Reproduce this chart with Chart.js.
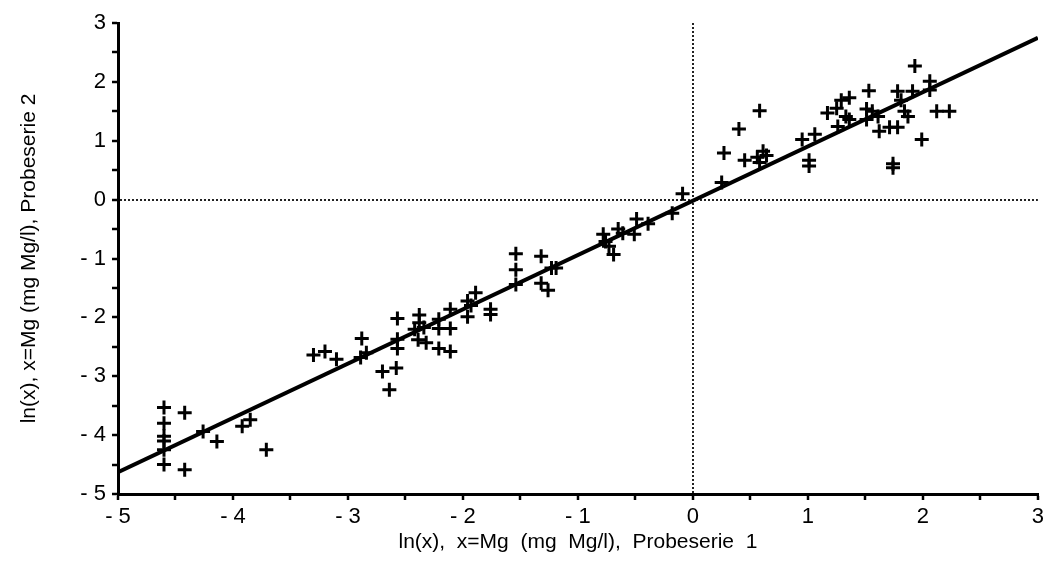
<!DOCTYPE html>
<html lang="de">
<head>
<meta charset="UTF-8">
<title>Mg Probeserie 1 vs 2</title>
<script src="https://cdn.jsdelivr.net/npm/chart.js"></script>
<style>
  html, body { margin: 0; padding: 0; background: #fff; }
  #wrap { width: 1048px; height: 566px; }
</style>
</head>
<body>
<div id="wrap"><canvas id="grafico"></canvas></div>
<script>
// ln(x) Probeserie 1 (x) and Probeserie 2 (y)
const serie1 = [
  -4.60, -4.60, -4.60, -4.60, -4.60, -4.60, -4.42, -4.42, -4.26, -4.14, -3.92, -3.85, -3.71,
  -3.30, -3.20, -3.10, -2.88, -2.89, -2.84, -2.70, -2.58, -2.64, -2.57, -2.57, -2.57,
  -2.38, -2.38, -2.42, -2.34, -2.39, -2.32, -2.21, -2.21, -2.11, -2.21, -2.11, -2.11,
  -1.96, -1.89, -1.93, -1.96, -1.76, -1.76, -1.54, -1.54, -1.54, -1.32, -1.32, -1.26, -1.23, -1.19,
  -0.78, -0.76, -0.73, -0.69, -0.65, -0.61, -0.51, -0.49, -0.39, -0.18, -0.09, 0.25,
  0.27, 0.40, 0.45, 0.58, 0.56, 0.61, 0.64, 0.58, 0.95, 1.06, 1.01, 1.01,
  1.17, 1.25, 1.29, 1.36, 1.33, 1.36, 1.26, 1.53, 1.51, 1.56, 1.61, 1.51, 1.62, 1.71, 1.78,
  1.74, 1.74, 1.78, 1.81, 1.84, 1.87, 1.91, 1.93, 2.06, 2.06, 1.99, 2.12, 2.23
];
const serie2 = [
  -3.53, -3.80, -4.02, -4.10, -4.25, -4.50, -3.62, -4.59, -3.94, -4.11, -3.85, -3.74, -4.25,
  -2.64, -2.58, -2.71, -2.36, -2.68, -2.60, -2.92, -2.86, -3.23, -2.02, -2.37, -2.53,
  -1.96, -2.09, -2.20, -2.17, -2.38, -2.43, -2.03, -2.19, -2.19, -2.53, -2.58, -1.86,
  -1.72, -1.58, -1.80, -1.99, -1.86, -1.95, -0.92, -1.19, -1.44, -0.96, -1.42, -1.54, -1.16, -1.16,
  -0.59, -0.71, -0.79, -0.93, -0.50, -0.57, -0.59, -0.33, -0.41, -0.23, 0.10, 0.29,
  0.79, 1.20, 0.67, 1.51, 0.72, 0.82, 0.75, 0.63, 1.02, 1.11, 0.67, 0.57,
  1.47, 1.55, 1.69, 1.73, 1.41, 1.36, 1.24, 1.85, 1.54, 1.50, 1.41, 1.36, 1.16, 1.23, 1.23,
  0.54, 0.61, 1.84, 1.69, 1.50, 1.41, 1.84, 2.27, 2.01, 1.86, 1.02, 1.50, 1.50
];
// regression line end points
const linieX = [-5, 3];
const linieY = [-4.63, 2.75];

const achsenMin = -5;
const achsenMax = 3;
const titelX = 'ln(x),  x=Mg  (mg  Mg/l),  Probeserie  1';
const titelY = 'ln(x), x=Mg (mg Mg/l), Probeserie 2';

const punkte = serie1.map((x, i) => ({ x: x, y: serie2[i] }));
const linie = linieX.map((x, i) => ({ x: x, y: linieY[i] }));

const familie = "'Liberation Sans', Arial, Helvetica, sans-serif";
const schriftTicks = { family: familie, size: 22 };
const schriftTitel = { family: familie, size: 21 };

function beschriftung(v) {
    if (!Number.isInteger(v)) return '';
    return v < 0 ? '- ' + Math.abs(v) : String(v);
}

function gitter(ctx) {
    return ctx.tick && ctx.tick.value === 0 ? '#222' : 'rgba(0,0,0,0)';
}

new Chart(document.getElementById('grafico'), {
    type: 'scatter',
    data: {
        datasets: [{
            data: punkte,
            pointStyle: 'cross',
            pointRadius: 7,
            pointHoverRadius: 7,
            borderColor: '#000',
            backgroundColor: '#000',
            pointBorderWidth: 3,
            showLine: false
        }, {
            type: 'line',
            data: linie,
            borderColor: '#000',
            borderWidth: 4,
            pointRadius: 0,
            fill: false
        }]
    },
    options: {
        responsive: true,
        maintainAspectRatio: false,
        animation: false,
        layout: { padding: { top: 23, right: 2, left: 0, bottom: 0 } },
        plugins: {
            legend: { display: false },
            tooltip: { enabled: false }
        },
        scales: {
            x: {
                type: 'linear',
                min: achsenMin,
                max: achsenMax,
                afterFit: s => { s.height = 72; },
                ticks: { stepSize: 0.5, autoSkip: false, maxRotation: 0, color: '#000', font: schriftTicks, padding: 4, callback: beschriftung },
                grid: { color: gitter, lineWidth: 2, tickLength: 6, tickColor: '#000', tickWidth: 2.5 },
                border: { display: true, color: '#000', width: 3, dash: [2, 2] },
                title: { display: true, text: titelX, color: '#000', font: schriftTitel, padding: { top: 0, bottom: 11 } }
            },
            y: {
                type: 'linear',
                min: achsenMin,
                max: achsenMax,
                afterFit: s => { s.width = 118; },
                ticks: { stepSize: 0.5, autoSkip: false, color: '#000', font: schriftTicks, padding: 6, callback: beschriftung },
                grid: { color: gitter, lineWidth: 2, tickLength: 6, tickColor: '#000', tickWidth: 2.5 },
                border: { display: true, color: '#000', width: 3, dash: [2, 2] },
                title: { display: true, text: titelY, color: '#000', font: schriftTitel, padding: { top: 17, bottom: 0 } }
            }
        }
    }
});
</script>
</body>
</html>
